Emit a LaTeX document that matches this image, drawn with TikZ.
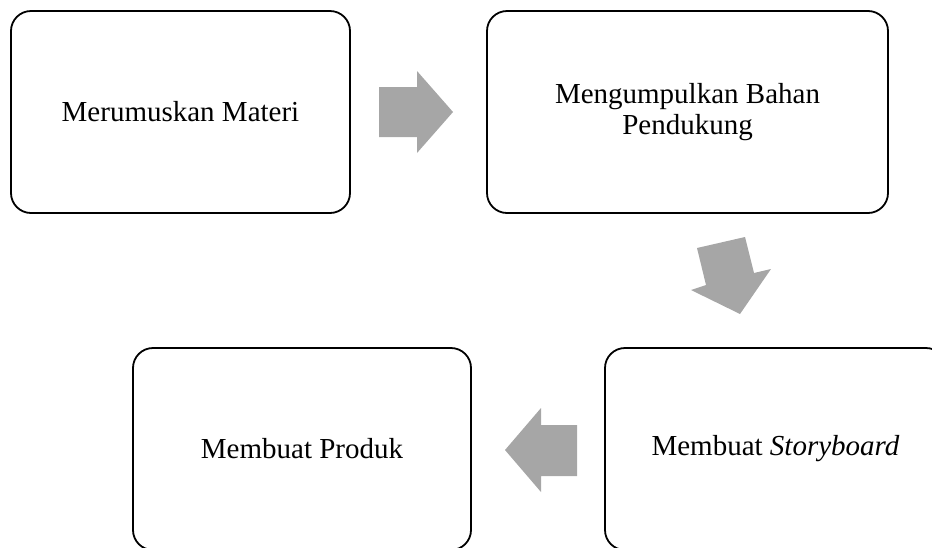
\documentclass[tikz,border=0pt]{standalone}
\usepackage{fontspec}
\setmainfont{Liberation Serif}
\definecolor{arrowgray}{HTML}{A6A6A6}
\begin{document}
\begin{tikzpicture}[x=1pt,y=-1pt,
  stepbox/.style={draw=black, line width=1.8pt, rounded corners=20pt, fill=white,
    align=center, inner sep=0pt,
    font=\fontsize{29}{31}\selectfont},
  blockarrow/.style={fill=arrowgray, draw=none}]
\useasboundingbox (0,0) rectangle (932,547);
\clip (0,0) rectangle (932,547);
\node[stepbox, minimum width=339pt, minimum height=202pt] (b1) at (180.5,112) {Merumuskan Materi};
\node[stepbox, minimum width=401pt, minimum height=202pt] (b2) at (687.5,112) {Mengumpulkan Bahan\\Pendukung};
\node[stepbox, minimum width=341pt, minimum height=202pt] (b3) at (775.5,449) {Membuat \textit{Storyboard}};
\node[stepbox, minimum width=338pt, minimum height=202pt] (b4) at (302,449) {Membuat Produk};
% right arrow
\fill[blockarrow] (379,87) -- (417,87) -- (417,71) -- (453,112) -- (417,153) -- (417,137) -- (379,137) -- cycle;
% diagonal arrow
\fill[blockarrow] (697,248) -- (745,237) -- (754,273) -- (771,269) -- (740,314) -- (691,290) -- (706,285) -- cycle;
% left arrow
\fill[blockarrow] (577,425) -- (541,425) -- (541,408) -- (505,450) -- (541,492) -- (541,476) -- (577,476) -- cycle;
\end{tikzpicture}
\end{document}
